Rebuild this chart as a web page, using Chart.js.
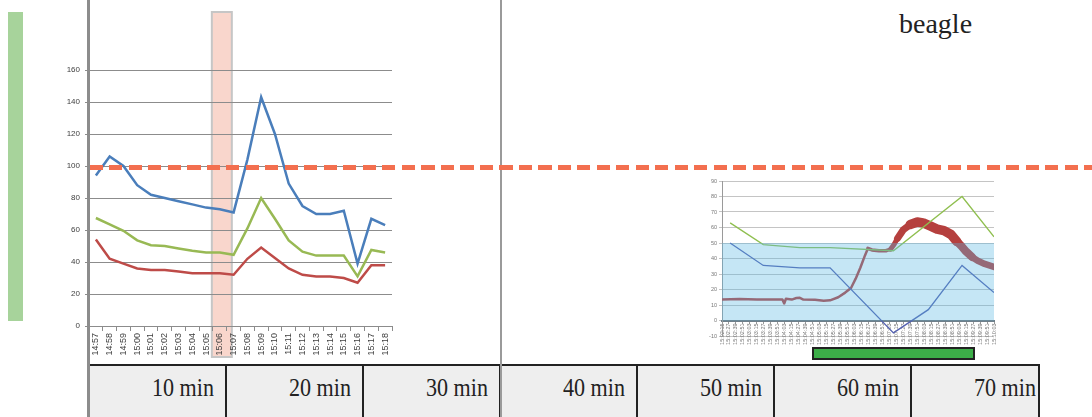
<!DOCTYPE html>
<html>
<head>
<meta charset="utf-8">
<script src="https://cdn.jsdelivr.net/npm/chart.js@4.4.0/dist/chart.umd.min.js"></script>
<style>
  body { margin: 0; width: 1092px; height: 417px; overflow: hidden; background: #fff; position: relative; font-family: "Liberation Sans", Arial, sans-serif; }
  .abs { position: absolute; }
  #greenV { left: 8px; top: 12px; width: 15px; height: 309px; background: #a7d39b; }
  #sepLeft { left: 87px; top: 0; width: 3px; height: 417px; background: #8c8c8c; }
  #sepRight { left: 500px; top: 0; width: 2px; height: 417px; background: #9a9a9a; }
  #greenH { left: 812px; top: 347px; width: 163px; height: 13px; background: #3cae48; border: 2px solid #222; box-sizing: border-box; }
  #threshold { left: 90px; width: 1002px; height: 5px;
    background: repeating-linear-gradient(90deg, #f36f4f 0 13px, transparent 13px 19.5px); }
  #beagle { left: 899px; top: 10px; font-family: "Liberation Serif", "Times New Roman", serif; font-size: 28px; line-height: 28px; color: #222; }
  .cell { position: absolute; top: 364px; height: 60px; background: #eeeeee; border-top: 2px solid #222; border-right: 2px solid #222; box-sizing: border-box; }
  .mark { position: absolute; top: 375px; font-family: "Liberation Serif", "Times New Roman", serif; font-size: 26px; line-height: 26px; color: #222;
    transform: scaleX(0.85); transform-origin: right center; white-space: nowrap; text-align: right; }
</style>
</head>
<body>
<div class="abs" id="greenV"></div>
<canvas id="leftChart" width="370" height="362" style="position:absolute;left:40px;top:0"></canvas>
<canvas id="rightChart" width="320" height="180" style="position:absolute;left:690px;top:170px"></canvas>
<div id="timeline"></div>
<div class="abs" id="sepLeft"></div>
<div class="abs" id="sepRight"></div>
<div class="abs" id="greenH"></div>
<div class="abs" id="threshold"></div>
<div class="abs" id="beagle">beagle</div>
<script>
// left chart: minute readings
var leftTimes = ['14:57','14:58','14:59','15:00','15:01','15:02','15:03','15:04','15:05','15:06','15:07',
                 '15:08','15:09','15:10','15:11','15:12','15:13','15:14','15:15','15:16','15:17','15:18'];
var blueSeries  = [94, 106, 100, 88, 82, 80, 78, 76, 74, 73, 71, 104, 143, 120, 89, 75, 70, 70, 72, 39, 67, 63];
var greenSeries = [67.5, 63.5, 59.5, 53.5, 50.5, 50, 48.5, 47, 46, 46, 44.5, 61, 80, 67, 53.5, 46.5, 44, 44, 44, 31, 47.5, 46];
var redSeries   = [54, 42, 39, 36, 35, 35, 34, 33, 33, 33, 32, 42, 49, 42.5, 36, 32, 31, 31, 30, 27, 38, 38];
var highlightTime = '15:06';
var threshold = 100;

// right chart: seconds from first sample
var rightTimes = ['15:02:15','15:02:27','15:02:39','15:02:51','15:03:03','15:03:15','15:03:27','15:03:39','15:03:51','15:04:03',
                  '15:04:15','15:04:27','15:04:39','15:04:51','15:05:03','15:05:15','15:05:27','15:05:39','15:05:51','15:06:03',
                  '15:06:15','15:06:27','15:06:39','15:06:51','15:07:03','15:07:15','15:07:27','15:07:39','15:07:51','15:08:03',
                  '15:08:15','15:08:27','15:08:39','15:08:51','15:09:03','15:09:15','15:09:27','15:09:39','15:09:51','15:10:03'];
var rightGreenX = [14, 71, 134, 186, 295, 413, 468];
var rightGreenY = [63, 49, 47, 47, 45, 80, 54];
var rightBlueX  = [14, 71, 134, 186, 295, 355, 413, 468];
var rightBlueY  = [50, 35.5, 34, 34, -8, 7, 35.5, 18];
var rightRedX = [0, 30, 60, 90, 104, 107, 110, 120, 128, 134, 140, 160, 175, 186, 200, 212, 222, 230, 238, 246, 251,
                 258, 270, 282, 290, 296, 302, 312, 324, 336, 346, 358, 370, 382, 394, 404, 412, 420, 430, 440, 452, 468];
var rightRedY = [13.5, 13.8, 13.5, 13.6, 13.5, 11, 14, 13.5, 14.5, 14.6, 13.5, 13.4, 12.8, 13, 15, 18, 21, 27, 34, 42, 46.5,
                 45.5, 45, 45, 46, 49, 53, 58.5, 62, 63.5, 63, 61, 59, 58, 55.5, 51, 48, 44.5, 41, 38.5, 36.5, 34.5];
var rightBandX = [0, 468];
var rightBandY = [50, 50];

var timeMarks = ['10 min', '20 min', '30 min', '40 min', '50 min', '60 min', '70 min'];

function points(xs, ys) {
    return xs.map(function (x, i) { return { x: x, y: ys[i] }; });
}

// pink column behind the 15:06 slot
var bandPlugin = {
    id: 'band',
    beforeDraw: function (chart) {
        var ctx = chart.ctx;
        var x = chart.scales.x.getPixelForValue(leftTimes.indexOf(highlightTime));
        ctx.save();
        ctx.fillStyle = '#f9d6cc';
        ctx.fillRect(x - 8, 12, 20, 345);
        ctx.strokeStyle = '#c6c6c6';
        ctx.lineWidth = 2;
        ctx.strokeRect(x - 8, 12, 20, 345);
        ctx.restore();
    }
};

// the noisy red trace gets fatter once it starts climbing
function redWidth(c) {
    var x = c.p0.parsed.x;
    if (x < 250) return 2.5;
    if (x < 290) return 3.5;
    if (x < 300) return 5;
    if (x < 315) return 7;
    if (x < 400) return 9.5;
    if (x < 430) return 8;
    return 6.5;
}

var leftChart = new Chart('leftChart', {
    type: 'line',
    data: {
        labels: leftTimes,
        datasets: [
            { data: blueSeries, borderColor: '#4a7ebb', borderWidth: 2.5, pointRadius: 0, tension: 0 },
            { data: greenSeries, borderColor: '#98b954', borderWidth: 2.5, pointRadius: 0, tension: 0 },
            { data: redSeries, borderColor: '#be4b48', borderWidth: 2.5, pointRadius: 0, tension: 0 }
        ]
    },
    options: {
        responsive: false,
        animation: false,
        layout: { padding: { top: 70, right: 18, left: 0, bottom: 0 } },
        plugins: { legend: { display: false }, tooltip: { enabled: false } },
        scales: {
            x: {
                offset: true,
                afterFit: function (s) { s.height = 36; },
                grid: { offset: true, drawOnChartArea: false, tickLength: 5, color: '#8c8c8c' },
                border: { color: '#8c8c8c', width: 1 },
                ticks: { autoSkip: false, minRotation: 90, maxRotation: 90, padding: 2, color: '#404040', font: { size: 9 } }
            },
            y: {
                min: 0, max: 160,
                afterFit: function (s) { s.width = 49; },
                grid: { color: '#8c8c8c', tickLength: 4 },
                border: { display: false },
                ticks: { stepSize: 20, padding: 5, color: '#404040', font: { size: 8 } }
            }
        }
    },
    plugins: [bandPlugin]
});

new Chart('rightChart', {
    type: 'line',
    data: {
        datasets: [
            { data: points(rightBandX, rightBandY), fill: 'origin', backgroundColor: 'rgba(89,184,226,0.35)',
              borderWidth: 0, pointRadius: 0, order: -1 },
            { data: points(rightGreenX, rightGreenY), borderColor: '#8fbf4f', borderWidth: 1.3, pointRadius: 0, tension: 0 },
            { data: points(rightBlueX, rightBlueY), borderColor: '#5360b0', borderWidth: 1.3, pointRadius: 0, tension: 0 },
            { data: points(rightRedX, rightRedY), borderColor: '#b5403e', borderWidth: 2.5, pointRadius: 0, tension: 0,
              borderCapStyle: 'round', borderJoinStyle: 'round',
              segment: { borderWidth: redWidth } }
        ]
    },
    options: {
        responsive: false,
        animation: false,
        layout: { padding: { top: 11, right: 16, bottom: 14, left: 0 } },
        plugins: { legend: { display: false }, tooltip: { enabled: false } },
        scales: {
            x: {
                type: 'linear', min: 0, max: 468,
                position: { y: 0 },
                afterFit: function (s) { s.height = 0; },
                grid: { drawOnChartArea: false, tickLength: 2, color: '#999' },
                border: { color: '#6f7f8a', width: 2 },
                ticks: { stepSize: 12, autoSkip: false, minRotation: 90, maxRotation: 90, padding: 1, color: '#777',
                         font: { size: 5.5 },
                         callback: function (v, i) { return rightTimes[i]; } }
            },
            y: {
                min: -10, max: 90,
                afterFit: function (s) { s.width = 32; },
                grid: { color: '#c4c4c4', tickLength: 3 },
                border: { color: '#9a9a9a', width: 1 },
                ticks: { stepSize: 10, padding: 2, color: '#777', font: { size: 5.5 } }
            }
        }
    }
});

// dashed threshold line across the whole figure, at the left chart's 100 mark
document.getElementById('threshold').style.top = (leftChart.scales.y.getPixelForValue(threshold) - 1.5) + 'px';

// timeline row
var timeline = document.getElementById('timeline');
var cellW = 137;
timeMarks.forEach(function (label, i) {
    var left = 90 + i * cellW;
    var cell = document.createElement('div');
    cell.className = 'cell';
    cell.style.left = left + 'px';
    cell.style.width = Math.min(cellW, 1040 - left) + 'px';
    timeline.appendChild(cell);
    var txt = document.createElement('div');
    txt.className = 'mark';
    txt.textContent = label;
    txt.style.right = (1092 - (left + cellW - 13.5)) + 'px';
    timeline.appendChild(txt);
});
</script>
</body>
</html>
